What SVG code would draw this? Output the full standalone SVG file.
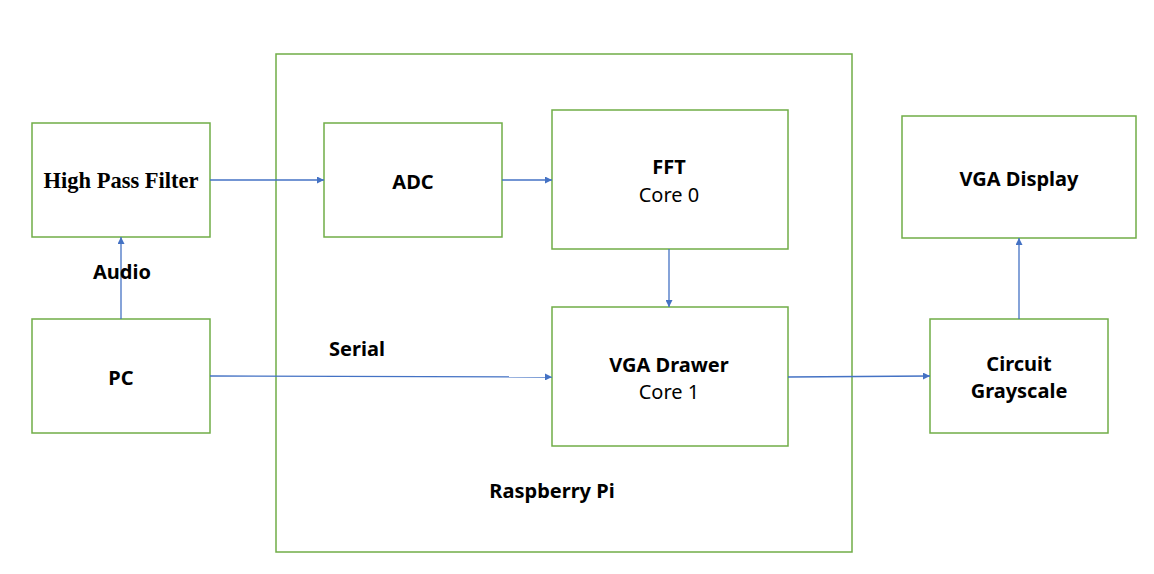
<svg xmlns="http://www.w3.org/2000/svg" width="1154" height="574" viewBox="0 0 1154 574">
<style>
.box{fill:#fff;stroke:#70AD47;stroke-width:1.5}
.t{font-family:"Noto Sans","Liberation Sans",sans-serif;font-size:20px;fill:#000;text-anchor:middle}
.b{font-weight:bold}
.serif{font-family:"Liberation Serif","Times New Roman",serif;font-weight:bold;font-size:22.5px;text-anchor:middle}
.c{fill:none;stroke:#4472C4;stroke-width:1.3;marker-end:url(#ah)}
</style>
<defs>
<marker id="ah" viewBox="0 0 10 10" refX="10" refY="5" markerWidth="7" markerHeight="7" markerUnits="userSpaceOnUse" orient="auto">
<path d="M0,0 L10,5 L0,10 z" fill="#4472C4"/>
</marker>
</defs>
<rect width="1154" height="574" fill="#fff"/>
<g id="raspberry-pi">
<rect class="box" x="276" y="54" width="576" height="498"/>
<text class="t b" x="552" y="498">Raspberry Pi</text>
</g>
<g id="hpf">
<rect class="box" x="32" y="123" width="178" height="114"/>
<text class="serif" x="121" y="188">High Pass Filter</text>
</g>
<g id="adc">
<rect class="box" x="324" y="123" width="178" height="114"/>
<text class="t b" x="413" y="189">ADC</text>
</g>
<g id="fft">
<rect class="box" x="552" y="110" width="236" height="139"/>
<text class="t b" x="669" y="174">FFT</text>
<text class="t" x="669" y="202">Core 0</text>
</g>
<g id="vga-drawer">
<rect class="box" x="552" y="307" width="236" height="139"/>
<text class="t b" x="669" y="372">VGA Drawer</text>
<text class="t" x="669" y="399">Core 1</text>
</g>
<g id="vga-display">
<rect class="box" x="902" y="116" width="234" height="122"/>
<text class="t b" x="1019" y="186">VGA Display</text>
</g>
<g id="circuit-grayscale">
<rect class="box" x="930" y="319" width="178" height="114"/>
<text class="t b" x="1019" y="371">Circuit</text>
<text class="t b" x="1019" y="398">Grayscale</text>
</g>
<g id="pc">
<rect class="box" x="32" y="319" width="178" height="114"/>
<text class="t b" x="121" y="385">PC</text>
</g>
<g id="connectors">
<line class="c" x1="210" y1="180" x2="324" y2="180"/>
<line class="c" x1="502" y1="180" x2="552" y2="180"/>
<line class="c" x1="669" y1="249" x2="669" y2="307"/>
<line class="c" x1="210" y1="376" x2="552" y2="377"/>
<line class="c" x1="788" y1="377" x2="930" y2="376"/>
<line class="c" x1="121" y1="319" x2="121" y2="237"/>
<line class="c" x1="1019" y1="319" x2="1019" y2="238"/>
<text class="t b" x="122" y="279">Audio</text>
<text class="t b" x="357" y="356">Serial</text>
</g>
</svg>
